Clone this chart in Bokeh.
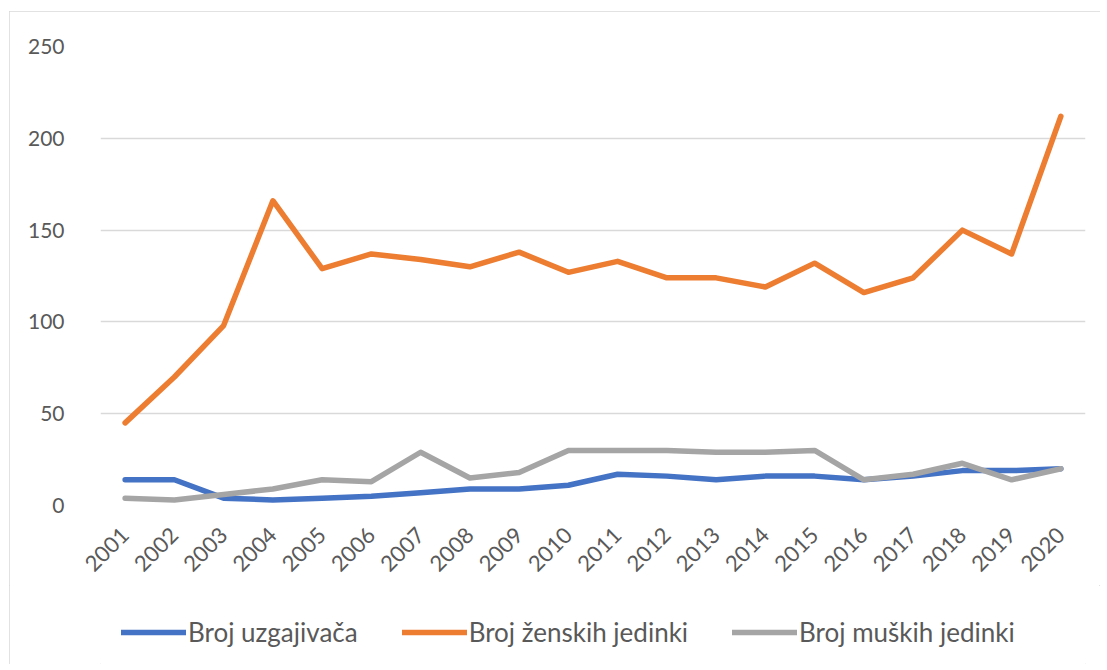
import math
from bokeh.plotting import figure
from bokeh.layouts import column
from bokeh.models import Legend, LegendItem, FixedTicker, FactorRange, Range1d
from bokeh.embed import file_html
from bokeh.resources import INLINE

years = ["2001", "2002", "2003", "2004", "2005", "2006", "2007", "2008", "2009", "2010",
         "2011", "2012", "2013", "2014", "2015", "2016", "2017", "2018", "2019", "2020"]
uzgajivaca = [14, 14, 4, 3, 4, 5, 7, 9, 9, 11, 17, 16, 14, 16, 16, 14, 16, 19, 19, 20]
zenske = [45, 70, 98, 166, 129, 137, 134, 130, 138, 127, 133, 124, 124, 119, 132, 116, 124, 150, 137, 212]
muske = [4, 3, 6, 9, 14, 13, 29, 15, 18, 30, 30, 30, 29, 29, 30, 14, 17, 23, 14, 20]
y_ticks = [0, 50, 100, 150, 200, 250]
series_names = ["Broj uzgajivača", "Broj ženskih jedinki", "Broj muških jedinki"]
colors = ["#4472C4", "#ED7D31", "#A5A5A5"]

FONT = "Lato"
TXT = "#595959"
LW = 5.5

p = figure(frame_width=985, frame_height=459, x_range=FactorRange(*years, range_padding=0),
           y_range=Range1d(0, 250), output_backend="svg", toolbar_location=None,
           min_border_left=91, min_border_right=15, min_border_top=35, min_border_bottom=80)
p.background_fill_color = "white"
p.border_fill_color = "white"
p.outline_line_color = None

for vals, c in zip([uzgajivaca, zenske, muske], colors):
    p.line(years, vals, line_color=c, line_width=LW, line_join="round", line_cap="round")

p.xgrid.grid_line_color = None
p.ygrid.grid_line_color = "#d9d9d9"
p.ygrid.grid_line_width = 1.3
p.yaxis.ticker = FixedTicker(ticks=y_ticks)

for ax in (p.xaxis[0], p.yaxis[0]):
    ax.axis_line_color = None
    ax.major_tick_line_color = None
    ax.minor_tick_line_color = None
    ax.major_label_text_font = FONT
    ax.major_label_text_color = TXT
p.yaxis.major_label_text_font_size = "21px"
p.xaxis.major_label_text_font_size = "22px"
p.yaxis.major_label_standoff = 30
p.xaxis.major_label_orientation = math.pi / 4
p.xaxis.major_label_standoff = 20

# legend strip below the chart (the series are drawn again outside its visible range)
lg = figure(width=1091, height=79, x_range=FactorRange(*years, range_padding=0),
            y_range=Range1d(1000, 1001), output_backend="svg", toolbar_location=None,
            x_axis_type=None, y_axis_type=None,
            min_border_left=0, min_border_right=0, min_border_top=0, min_border_bottom=0)
lg.outline_line_color = None
lg.xgrid.grid_line_color = None
lg.ygrid.grid_line_color = None
lg.background_fill_color = "white"
lg.border_fill_color = "white"
lg_renderers = []
for vals, c in zip([uzgajivaca, zenske, muske], colors):
    lg_renderers.append(lg.line(years, vals, line_color=c, line_width=LW, line_cap="round"))

legend = Legend(items=[LegendItem(label=n, renderers=[r]) for n, r in zip(series_names, lg_renderers)],
                orientation="horizontal", location=(21, 16))
legend.label_text_font = FONT
legend.label_text_font_size = "26px"
legend.label_text_color = TXT
legend.glyph_width = 65
legend.label_standoff = 2
legend.spacing = 44
legend.padding = 0
legend.margin = 0
legend.border_line_color = None
legend.background_fill_alpha = 0
lg.add_layout(legend, "center")

layout = column(p, lg, spacing=0)
layout.styles = {"outline": "1px solid #d9d9d9", "outline-offset": "-1px", "background": "white"}
layout.margin = (11, 0, 0, 9)

open("out.html", "w").write(file_html(layout, INLINE))
